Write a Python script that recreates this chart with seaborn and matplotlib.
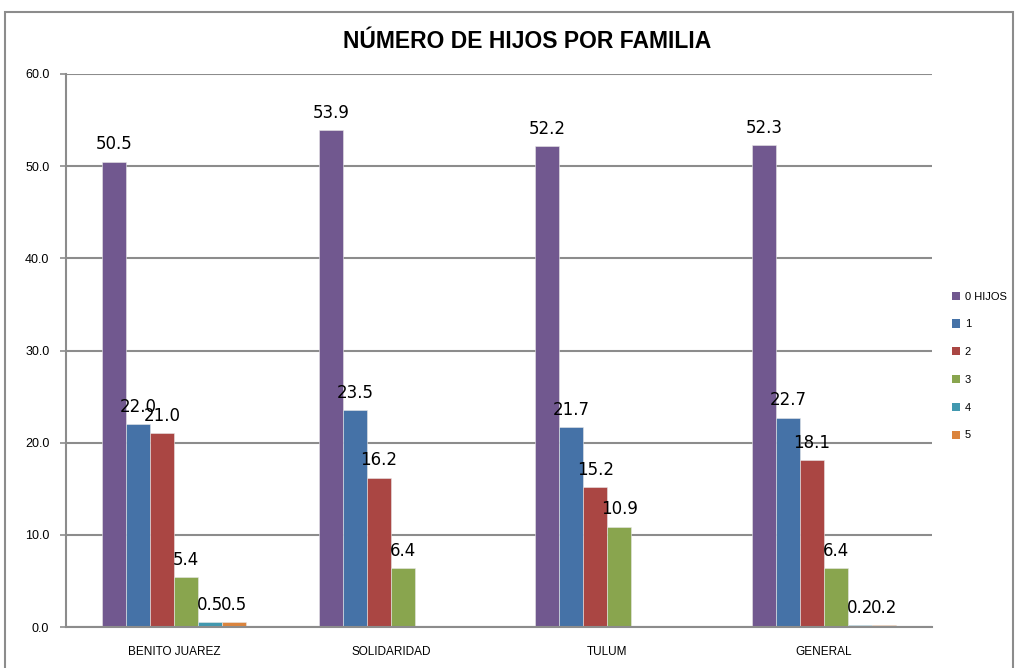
import matplotlib
matplotlib.use("Agg")
import matplotlib.pyplot as plt
import seaborn as sns
import pandas as pd
from matplotlib.patches import Rectangle, Patch

# Data
municipios = ["BENITO JUAREZ", "SOLIDARIDAD", "TULUM", "GENERAL"]
series = ["0 HIJOS", "1", "2", "3", "4", "5"]
hijos_0 = [50.5, 53.9, 52.2, 52.3]
hijos_1 = [22.0, 23.5, 21.7, 22.7]
hijos_2 = [21.0, 16.2, 15.2, 18.1]
hijos_3 = [5.4, 6.4, 10.9, 6.4]
hijos_4 = [0.5, 0.0, 0.0, 0.2]
hijos_5 = [0.5, 0.0, 0.0, 0.2]
colores = ["#71588F", "#4572A7", "#AA4643", "#89A54E", "#4198AF", "#DB843D"]

valores = [hijos_0, hijos_1, hijos_2, hijos_3, hijos_4, hijos_5]
rows = []
for s, vals in zip(series, valores):
    for m, v in zip(municipios, vals):
        rows.append({"municipio": m, "hijos": s, "porcentaje": v})
df = pd.DataFrame(rows)

sns.set_theme(style="white")
plt.rcParams["font.family"] = ["Liberation Sans Narrow", "Liberation Sans", "DejaVu Sans"]

fig = plt.figure(figsize=(10.16, 6.68), dpi=100)
ax = fig.add_axes([66 / 1016, 41 / 668, (932 - 66) / 1016, (627 - 74) / 668])

sns.barplot(data=df, x="municipio", y="porcentaje", hue="hijos",
            order=municipios, hue_order=series, palette=colores,
            errorbar=None, width=0.665, saturation=1, ax=ax,
            edgecolor="#E8E8E8", linewidth=0.4, legend=False)

# value labels above each bar (non-zero only)
for cont in ax.containers:
    labs = [f"{b.get_height():.1f}" if b.get_height() > 0 else "" for b in cont]
    ax.bar_label(cont, labels=labs, padding=6, fontsize=12,
                 family=["DejaVu Sans"], color="#000000")

grid_c = "#8C8C8C"
ax.set_ylim(0, 60)
ax.set_xlim(-0.5, 3.5)
ax.set_yticks(range(0, 61, 10))
ax.set_yticklabels([f"{v:.1f}" for v in range(0, 61, 10)], fontsize=9,
                   color="#000000")
ax.yaxis.grid(True, color=grid_c, linewidth=1.5)
ax.set_axisbelow(True)
ax.tick_params(axis="y", length=4, color=grid_c, width=1.2, pad=8, left=True)
ax.tick_params(axis="x", length=0, pad=14, labelsize=8.5, labelcolor="#000000")
ax.set_xlabel("")
ax.set_ylabel("")
for side in ["top", "right"]:
    ax.spines[side].set_visible(False)
for side in ["left", "bottom"]:
    ax.spines[side].set_color(grid_c)
    ax.spines[side].set_linewidth(1.5)

fig.text(527 / 1016, 1 - 42 / 668, "NÚMERO DE HIJOS POR FAMILIA",
         ha="center", va="center", fontsize=16.5, fontweight="bold",
         color="#000000")

handles = [Patch(facecolor=c, edgecolor="none") for c in colores]
fig.legend(handles, series, loc="center left",
           bbox_to_anchor=(942 / 1016, 1 - 366 / 668), frameon=False,
           fontsize=8, handlelength=0.75, handleheight=0.75,
           handletextpad=0.4, labelspacing=1.6, labelcolor="#000000")

# chart frame
fig.patches.append(Rectangle((5 / 1016, -0.02), (1013 - 5) / 1016, 1.02 - 12 / 668,
                             transform=fig.transFigure, fill=False,
                             edgecolor="#8C8C8C", linewidth=1.5))

fig.savefig("out.png", dpi=100)
